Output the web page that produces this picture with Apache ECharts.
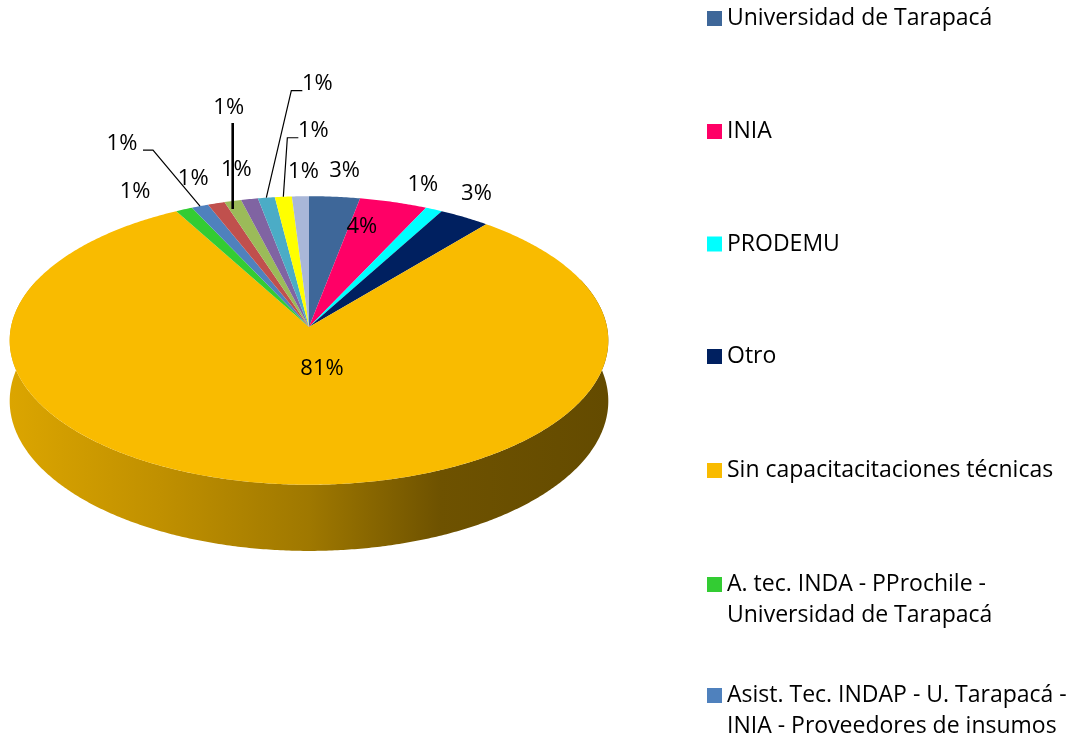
<!DOCTYPE html>
<html>
<head>
<meta charset="utf-8">
<script src="https://cdn.jsdelivr.net/npm/echarts@6/dist/echarts.min.js"></script>
<style>
  html, body { margin: 0; padding: 0; background: #fff; }
  #chart { width: 1081px; height: 740px; }
</style>
</head>
<body>
<div id="chart"></div>
<script>
const categories = [
  "Universidad de Tarapacá",
  "INIA",
  "PRODEMU",
  "Otro",
  "Sin capacitacitaciones técnicas",
  "A. tec. INDA - PProchile -\nUniversidad de Tarapacá",
  "Asist. Tec. INDAP - U. Tarapacá -\nINIA - Proveedores de insumos",
  "Categoría 8",
  "Categoría 9",
  "Categoría 10",
  "Categoría 11",
  "Categoría 12",
  "Categoría 13",
];
const values = [3, 4, 1, 3, 81, 1, 1, 1, 1, 1, 1, 1, 1];
const colors = [
  "#3E6799", "#FF0066", "#00FFFF", "#002060", "#F9BB00", "#33CC33", "#4F81BD",
  "#C0504D", "#9BBB59", "#8064A2", "#4BACC6", "#FFFF00", "#A9B7D8",
];
// only the first seven entries fit in the legend box
const legendCount = 7;

// pie projection (tilted disc with a little perspective)
const CX = 309, CY = 327, RX = 298, RY = 143, PERSP = 0.0934, DEPTH = 60;
const FONT = "Open Sans";
const LABEL_SIZE = 22;
const LEGEND_SIZE = 23;

// label placement: anchor radius, offset from anchor, leader style
const labelPlace = [
  { r: 1, dx: 10, dy: -26 },
  { r: 0.8, dx: -16, dy: 1 },
  { r: 1, dx: -11, dy: -25 },
  { r: 1, dx: 12, dy: -23 },
  { r: 0, dx: 13, dy: 42 },
  { r: 1, dx: -49, dy: -18 },
  { r: 1, dx: -78, dy: -62, leader: "right" },
  { r: 1, dx: -23, dy: -25 },
  { r: 1, dx: -4, dy: -93, leader: "down" },
  { r: 1, dx: -13, dy: -29 },
  { r: 1, dx: 51, dy: -114, leader: "left" },
  { r: 1, dx: 30, dy: -66, leader: "left" },
  { r: 1, dx: 3, dy: -25 },
];

// top of each legend block; two-line entries keep the swatch on the first line
const legendTops = [3, 116, 228.5, 341, 455, 569, 680];
const twoLineIcon = "path://M0,0h0.01v0.01z M0,62h0.01v-0.01z M0,8h15v15h-15z";

function proj(deg, r, drop) {
  const t = deg * Math.PI / 180;
  const u = r * Math.cos(t), v = r * Math.sin(t);
  const d = 1 - PERSP * v;
  return [CX + RX * u / d, CY + (RY * v + (drop || 0)) / d];
}

function arc(from, to, r, drop) {
  const n = Math.max(2, Math.ceil(Math.abs(to - from) * 2));
  const pts = [];
  for (let k = 0; k <= n; k++) pts.push(proj(from + (to - from) * k / n, r, drop));
  return pts;
}

function shade(color, k) {
  const c = echarts.color.parse(color);
  return `rgb(${Math.round(c[0] * k)},${Math.round(c[1] * k)},${Math.round(c[2] * k)})`;
}

const total = values.reduce((a, b) => a + b, 0);

function renderSlice(i) {
  return function (params, api) {
    const before = values.slice(0, i).reduce((a, b) => a + b, 0);
    const val = api.value(0);
    const a0 = -90 + 360 * before / total;
    const a1 = a0 + 360 * val / total;
    const color = api.visual("color");
    const children = [];

    // side wall, only the part that faces the viewer
    const w0 = Math.max(a0, -20), w1 = Math.min(a1, 200);
    if (w1 > w0) {
      const pts = arc(w0, w1, 1, 0).concat(arc(w1, w0, 1, DEPTH));
      children.push({
        type: "polygon",
        z2: 0,
        shape: { points: pts },
        style: {
          fill: new echarts.graphic.LinearGradient(CX - RX, 0, CX + RX, 0, [
            { offset: 0, color: shade(color, 0.88) },
            { offset: 0.25, color: shade(color, 0.77) },
            { offset: 0.5, color: shade(color, 0.64) },
            { offset: 0.72, color: shade(color, 0.44) },
            { offset: 1, color: shade(color, 0.4) },
          ], true),
        },
      });
    }

    // top face
    children.push({
      type: "polygon",
      z2: 5,
      shape: { points: [[CX, CY]].concat(arc(a0, a1, 1, 0)) },
      style: { fill: color },
    });

    // data label
    const p = labelPlace[i];
    const mid = (a0 + a1) / 2;
    const anchor = p.r === 0 ? [CX, CY] : proj(mid, p.r, 0);
    const lx = anchor[0] + p.dx, ly = anchor[1] + p.dy;
    children.push({
      type: "text",
      z2: 10,
      style: {
        text: Math.round(val / total * 100) + "%",
        x: lx, y: ly,
        align: "center", verticalAlign: "middle",
        font: `${LABEL_SIZE}px "${FONT}"`,
        fill: "#000",
      },
    });

    if (p.leader) {
      let pts, lw = 1.2;
      if (p.leader === "right") {
        pts = [[lx + 21, ly + 6], [lx + 31, ly + 6], anchor];
      } else if (p.leader === "left") {
        pts = [[lx - 15, ly + 7], [lx - 26, ly + 7], anchor];
      } else {
        pts = [[anchor[0], ly + 15], [anchor[0], anchor[1] + 8]];
        lw = 2.6;
      }
      children.push({
        type: "polyline",
        z2: 8,
        shape: { points: pts },
        style: { stroke: "#000", lineWidth: lw, fill: null },
      });
    }

    return { type: "group", children: children };
  };
}

const chart = echarts.init(document.getElementById("chart"));

chart.setOption({
  backgroundColor: "#fff",
  animation: false,
  legend: categories.slice(0, legendCount).map((name, k) => {
    const twoLines = name.indexOf("\n") >= 0;
    return {
      data: [name],
      orient: "vertical",
      left: 707,
      top: legendTops[k],
      padding: 0,
      itemWidth: 15,
      itemHeight: twoLines ? 62 : 15,
      icon: twoLines ? twoLineIcon : "rect",
      textStyle: {
        fontFamily: FONT,
        fontSize: LEGEND_SIZE,
        color: "#000",
        lineHeight: 31,
      },
    };
  }),
  series: categories.map((name, i) => ({
    type: "custom",
    name: name,
    coordinateSystem: "none",
    itemStyle: { color: colors[i] },
    data: [[values[i]]],
    renderItem: renderSlice(i),
  })),
});

window.addEventListener("resize", () => chart.resize());
</script>
</body>
</html>
